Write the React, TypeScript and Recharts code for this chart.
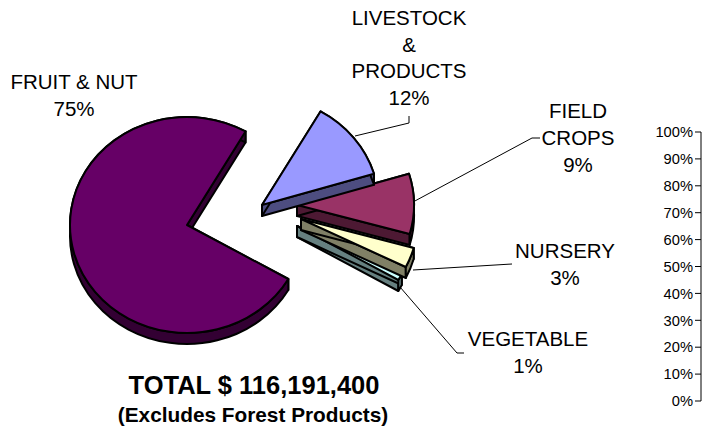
import React from "react";
import { PieChart, Pie, LineChart, Line, YAxis } from "recharts";

const categories = ["VEGETABLE", "NURSERY", "FIELD CROPS", "LIVESTOCK & PRODUCTS", "FRUIT & NUT"];
const shares = [1, 3, 9, 12, 75];
const topColors = ["#ccffff", "#ffffcc", "#993366", "#9999ff", "#660066"];
const sideColors = ["#668080", "#808066", "#4d1933", "#4d4d80", "#330033"];
const axisTicks = [0, 10, 20, 30, 40, 50, 60, 70, 80, 90, 100];
const axisRows = [{ v: 0 }, { v: 100 }];

const pieData = categories.map((name, i) => ({ name, value: shares[i] }));

const CX = 187;
const CY = 225;
const RX = 117;
const RY = 108;
const DEPTH = 11;
const explode = [
  [110, 1],
  [114, -6],
  [110, -20],
  [75, -20],
  [0, 0],
];
const labelLines = [
  ["VEGETABLE", "1%"],
  ["NURSERY", "3%"],
  ["FIELD", "CROPS", "9%"],
  ["LIVESTOCK", "&", "PRODUCTS", "12%"],
  ["FRUIT & NUT", "75%"],
];
const labelPos = [
  [528, 346, 26.5],
  [565, 258, 26.5],
  [578, 118, 27],
  [409, 25, 26.7],
  [74, 89, 26.5],
];
const leaders = [
  "M400,287 L457,353 L464,353",
  "M413,270 L512,264",
  "M413,202 L532,138 L540,138",
  "M355,136 L409,123 L409,116",
  "",
];

function Slice(props: any) {
  const { startAngle, endAngle, index } = props;
  const cx = CX + explode[index][0];
  const cy = CY + explode[index][1];
  const pt = (a: number, dy = 0) => {
    const r = (a * Math.PI) / 180;
    return [cx + RX * Math.cos(r), cy - RY * Math.sin(r) + dy];
  };
  const [sx, sy] = pt(startAngle);
  const [ex, ey] = pt(endAngle);
  const large = endAngle - startAngle > 180 ? 1 : 0;
  const common = { stroke: "#000", strokeWidth: 2, strokeLinejoin: "round" as const };
  return (
    <g>
      <path
        d={`M${cx},${cy} L${sx},${sy} L${sx},${sy + DEPTH} L${cx},${cy + DEPTH} Z`}
        fill={sideColors[index]}
        {...common}
      />
      <path
        d={`M${cx},${cy} L${ex},${ey} L${ex},${ey + DEPTH} L${cx},${cy + DEPTH} Z`}
        fill={sideColors[index]}
        {...common}
      />
      <path
        d={`M${sx},${sy} A${RX},${RY} 0 ${large} 0 ${ex},${ey} L${ex},${ey + DEPTH} A${RX},${RY} 0 ${large} 1 ${sx},${sy + DEPTH} Z`}
        fill={sideColors[index]}
        {...common}
      />
      <path
        d={`M${cx},${cy} L${sx},${sy} A${RX},${RY} 0 ${large} 0 ${ex},${ey} Z`}
        fill={topColors[index]}
        {...common}
      />
    </g>
  );
}

function SliceLabel(props: any) {
  const { index } = props;
  const [x, y, step] = labelPos[index];
  return (
    <g>
      {leaders[index] ? <path d={leaders[index]} fill="none" stroke="#000" strokeWidth={1} /> : null}
      {labelLines[index].map((t, i) => (
        <text
          key={t}
          x={x}
          y={y + i * step}
          textAnchor="middle"
          fontFamily="Liberation Sans"
          fontSize={20.5}
          fill="#000"
        >
          {t}
        </text>
      ))}
    </g>
  );
}

export default function App() {
  return (
    <div style={{ position: "absolute", left: 0, top: 0, width: 702, height: 432, overflow: "hidden", background: "#fff" }}>
      <div style={{ position: "absolute", left: 0, top: 0 }}>
        <PieChart width={702} height={432} margin={{ top: 0, right: 0, bottom: 0, left: 0 }}>
          <Pie
            data={pieData}
            dataKey="value"
            nameKey="name"
            cx={CX}
            cy={CY}
            outerRadius={RX}
            startAngle={-30}
            endAngle={330}
            paddingAngle={0}
            shape={Slice}
            label={SliceLabel}
            labelLine={false}
            isAnimationActive={false}
          />
          <text x={254} y={394} textAnchor="middle" fontFamily="Liberation Sans" fontWeight="bold" fontSize={25.5} fill="#000">
            TOTAL $ 116,191,400
          </text>
          <text x={253} y={422} textAnchor="middle" fontFamily="Liberation Sans" fontWeight="bold" fontSize={20.8} fill="#000">
            (Excludes Forest Products)
          </text>
        </PieChart>
      </div>
      <div style={{ position: "absolute", left: 0, top: 0 }}>
        <LineChart width={702} height={432} data={axisRows} margin={{ top: 132, right: 0, bottom: 31, left: 0 }}>
          <YAxis
            width={701}
            domain={[0, 100]}
            ticks={axisTicks}
            interval={0}
            tickFormatter={(v: number) => `${v}%`}
            tickSize={6}
            tickMargin={2}
            stroke="#000"
            tick={{ fill: "#000", fontFamily: "Liberation Sans", fontSize: 14.7 }}
          />
          <Line dataKey="v" stroke="none" dot={false} isAnimationActive={false} />
        </LineChart>
      </div>
    </div>
  );
}
